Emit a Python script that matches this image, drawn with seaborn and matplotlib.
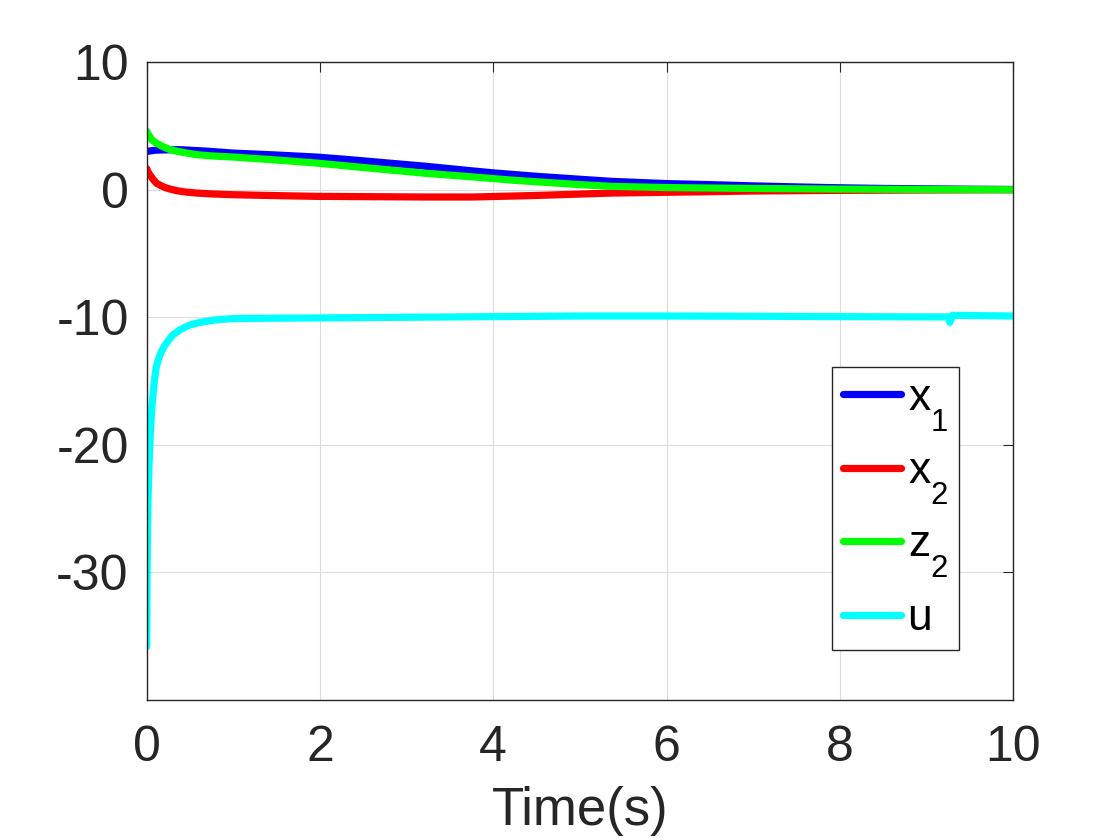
import numpy as np
import pandas as pd
import matplotlib
matplotlib.use("Agg")
import matplotlib.pyplot as plt
import seaborn as sns

try:
    import matplotlib._mathtext as _mt
    _mt.FontConstantsBase.sub1 = 0.9
    _mt.FontConstantsBase.sub2 = 0.9
except Exception:
    pass

# ---- data ----
t_x1 = [0, 0.1, 0.25, 0.38, 0.7, 1.0, 1.5, 1.96, 2.3, 2.69, 3.2, 3.77, 4.0, 4.5, 5.0, 5.38, 6.0,
        6.54, 7.0, 7.5, 8.0, 8.5, 9.0, 9.5, 10.0]
x1 = [3.0, 3.1, 3.13, 3.14, 3.02, 2.87, 2.72, 2.56, 2.38, 2.15, 1.85, 1.47, 1.32, 1.05, 0.82, 0.65, 0.48,
      0.39, 0.3, 0.22, 0.15, 0.1, 0.07, 0.04, 0.02]

t_x2 = [0, 0.015, 0.035, 0.07, 0.11, 0.17, 0.22, 0.27, 0.35, 0.45, 0.57, 0.75, 1.0, 1.4, 1.96, 2.69,
        3.2, 3.77, 4.2, 4.5, 5.0, 5.38, 6.0, 6.54, 7.0, 8.0, 9.0, 10.0]
x2 = [1.65, 1.4, 1.18, 0.85, 0.52, 0.3, 0.15, 0.05, -0.08, -0.18, -0.26, -0.33, -0.39, -0.45, -0.52, -0.55,
      -0.57, -0.57, -0.5, -0.45, -0.34, -0.26, -0.2, -0.15, -0.1, -0.05, -0.02, 0.0]

t_z2 = [0, 0.03, 0.06, 0.11, 0.18, 0.27, 0.4, 0.57, 0.75, 1.0, 1.5, 1.96, 2.3, 2.69, 3.2, 3.77, 4.2,
        4.5, 5.0, 5.38, 6.0, 6.54, 7.0, 8.0, 9.0, 10.0]
z2 = [4.57, 4.2, 3.9, 3.66, 3.4, 3.14, 2.95, 2.75, 2.65, 2.56, 2.33, 2.09, 1.87, 1.62, 1.3, 1.0, 0.76,
      0.62, 0.4, 0.26, 0.17, 0.13, 0.1, 0.05, 0.02, 0.0]

t_u = [0, 0.002, 0.005, 0.01, 0.015, 0.024, 0.035, 0.05, 0.066, 0.088, 0.11, 0.14, 0.17, 0.2, 0.23,
       0.3, 0.38, 0.45, 0.5, 0.61, 0.7, 0.8, 1.0, 1.5, 2.0, 3.0, 4.0, 5.0, 6.0, 7.0, 8.0, 9.0, 9.25,
       9.27, 9.3, 10.0]
u = [-35.8, -32.0, -29.5, -26.5, -24.3, -22.0, -20.0, -18.0, -16.5, -15.0, -13.9, -13.2, -12.7, -12.3,
     -12.0, -11.4, -11.0, -10.75, -10.6, -10.4, -10.3, -10.2, -10.1, -10.07, -10.05, -10.0, -9.95,
     -9.9, -9.9, -9.92, -9.95, -9.97, -9.97, -10.4, -9.85, -9.9]

labels = [r"x$_1$", r"x$_2$", r"z$_2$", "u"]
colors = ["#0000ff", "#ff0000", "#00ff00", "#00ffff"]

xticks = [0, 2, 4, 6, 8, 10]
yticks = [-30, -20, -10, 0, 10]

sns.set_theme(style="white")
plt.rcParams["font.family"] = ["Liberation Sans", "DejaVu Sans"]
plt.rcParams["mathtext.fontset"] = "custom"
plt.rcParams["mathtext.rm"] = "Liberation Sans"
plt.rcParams["mathtext.it"] = "Liberation Sans"
plt.rcParams["mathtext.default"] = "regular"

fig = plt.figure(figsize=(11.2, 8.4), dpi=100)
ax = fig.add_axes([0.131, 0.1667, 0.9045 - 0.131, 0.926 - 0.1667])

series = [(t_x1, x1), (t_x2, x2), (t_z2, z2), (t_u, u)]
for (tt, vv), lab, col in zip(series, labels, colors):
    df = pd.DataFrame({"t": tt, "v": vv})
    sns.lineplot(data=df, x="t", y="v", ax=ax, color=col, linewidth=5.2,
                 label=lab, sort=False, estimator=None)

ax.set_xlim(0, 10)
ax.set_ylim(-40, 10)
ax.set_xticks(xticks)
ax.set_yticks(yticks)
ax.set_xticklabels([str(v) for v in xticks])
ax.set_yticklabels([str(v) for v in yticks])
ax.grid(True, color="#dcdcdc", linewidth=0.8)
ax.set_axisbelow(True)
for s in ax.spines.values():
    s.set_color("#262626")
    s.set_linewidth(1.0)
ax.tick_params(axis="both", direction="in", length=7, width=0.8, colors="#262626",
               labelsize=36, top=True, right=True)
ax.tick_params(axis="x", pad=18)
ax.tick_params(axis="y", pad=13)
ax.set_xlabel("Time(s)", fontsize=38, color="#262626", labelpad=11)
ax.set_ylabel("")

leg = ax.legend(loc="lower left", bbox_to_anchor=(0.791, 0.078), fontsize=32,
                frameon=True, fancybox=False, framealpha=1, edgecolor="#262626",
                handlelength=1.3, handletextpad=0.15, borderpad=0.25, labelspacing=0.4,
                borderaxespad=0)
leg.get_frame().set_linewidth(1.0)
for txt in leg.get_texts():
    txt.set_color("black")

fig.savefig("out.png", dpi=100, facecolor="white")
